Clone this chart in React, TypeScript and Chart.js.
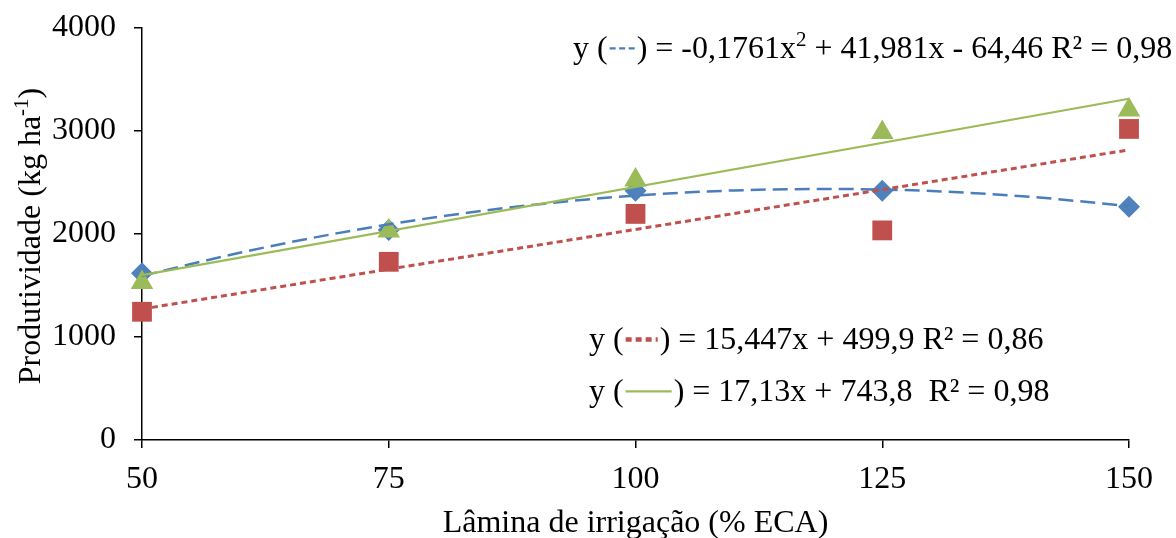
import React, { useEffect, useRef } from "react";
import { Chart, registerables } from "chart.js";
Chart.register(...registerables);

const laminas = [50, 75, 100, 125, 150];
const serieAzul = [1620, 2040, 2420, 2420, 2265];
const serieVermelha = [1245, 1730, 2195, 2035, 3020];
const serieVerde = [1530, 2030, 2525, 2985, 3205];
const curvaAzulX = [50, 60, 70, 80, 90, 100, 110, 120, 130, 140, 150];
const curvaAzulY = [1594, 1820, 2011, 2167, 2287, 2373, 2423, 2437, 2417, 2361, 2270];
const retaX = [50, 150];
const retaVermelhaY = [1272, 2817];
const retaVerdeY = [1600, 3313];
const xTicks = [50, 75, 100, 125, 150];
const yTicks = [0, 1000, 2000, 3000, 4000];

const AZUL = "#4F81BD";
const AZUL_LINHA = "#4A7EBB";
const VERMELHO = "#C0504D";
const VERDE = "#9BBB59";
const FONT = "Liberation Serif";
const F = 32;

const zip = (xs: number[], ys: number[]) => xs.map((x, i) => ({ x, y: ys[i] }));

type Part = { t?: string; sup?: boolean; sample?: "blue" | "red" | "green" };

function drawSample(ctx: CanvasRenderingContext2D, kind: string, x: number, y: number): number {
  ctx.save();
  let w = 0;
  if (kind === "blue") {
    w = 25;
    ctx.strokeStyle = AZUL_LINHA;
    ctx.lineWidth = 2.25;
    ctx.setLineDash([6, 3.5]);
  } else if (kind === "red") {
    w = 32;
    ctx.strokeStyle = VERMELHO;
    ctx.lineWidth = 4.5;
    ctx.setLineDash([6, 4]);
  } else {
    w = 46;
    ctx.strokeStyle = VERDE;
    ctx.lineWidth = 2.25;
    ctx.setLineDash([]);
  }
  ctx.beginPath();
  ctx.moveTo(x + 2, y);
  ctx.lineTo(x + 2 + w, y);
  ctx.stroke();
  ctx.restore();
  return w + 4;
}

function drawSeq(ctx: CanvasRenderingContext2D, x: number, y: number, parts: Part[]) {
  for (const p of parts) {
    if (p.sample) {
      x += drawSample(ctx, p.sample, x, y - F * 0.3);
    } else if (p.t !== undefined) {
      ctx.font = p.sup ? `${Math.round(F * 0.65)}px "${FONT}"` : `${F}px "${FONT}"`;
      ctx.fillText(p.t, x, y - (p.sup ? F * 0.36 : 0));
      x += ctx.measureText(p.t).width;
    }
  }
}

function seqWidth(ctx: CanvasRenderingContext2D, parts: Part[]) {
  let w = 0;
  for (const p of parts) {
    if (p.t !== undefined) {
      ctx.font = p.sup ? `${Math.round(F * 0.65)}px "${FONT}"` : `${F}px "${FONT}"`;
      w += ctx.measureText(p.t).width;
    }
  }
  return w;
}

const annotations = {
  id: "annotations",
  afterDraw(chart: any) {
    const ctx: CanvasRenderingContext2D = chart.ctx;
    const area = chart.chartArea;
    ctx.save();
    ctx.fillStyle = "#000";
    ctx.textBaseline = "alphabetic";
    ctx.textAlign = "left";
    drawSeq(ctx, 573, 58, [
      { t: "y (" },
      { sample: "blue" },
      { t: ") = -0,1761x" },
      { t: "2", sup: true },
      { t: " + 41,981x - 64,46 R\u00B2 = 0,98" },
    ]);
    drawSeq(ctx, 589, 349, [
      { t: "y (" },
      { sample: "red" },
      { t: ") = 15,447x + 499,9 R\u00B2 = 0,86" },
    ]);
    drawSeq(ctx, 589, 401, [
      { t: "y (" },
      { sample: "green" },
      { t: ") = 17,13x + 743,8  R\u00B2 = 0,98" },
    ]);
    const xt: Part[] = [{ t: "L\u00E2mina de irriga\u00E7\u00E3o (% ECA)" }];
    const xw = seqWidth(ctx, xt);
    drawSeq(ctx, (area.left + area.right) / 2 - xw / 2, 532, xt);
    const yt: Part[] = [{ t: "Produtividade (kg ha" }, { t: "-1", sup: true }, { t: ")" }];
    const yw = seqWidth(ctx, yt);
    ctx.translate(40, 236);
    ctx.rotate(-Math.PI / 2);
    drawSeq(ctx, -yw / 2, 0, yt);
    ctx.restore();
  },
};

export default function App() {
  const ref = useRef<HTMLCanvasElement | null>(null);
  useEffect(() => {
    if (!ref.current) return;
    const tickFont = { family: FONT, size: F };
    const chart = new Chart(ref.current, {
      type: "scatter",
      data: {
        datasets: [
          {
            type: "line",
            data: zip(retaX, retaVerdeY),
            borderColor: VERDE,
            borderWidth: 2.25,
            pointRadius: 0,
            clip: false,
          } as any,
          {
            type: "line",
            data: zip(retaX, retaVermelhaY),
            borderColor: VERMELHO,
            borderWidth: 3,
            borderDash: [6, 4],
            pointRadius: 0,
            clip: false,
          } as any,
          {
            type: "line",
            data: zip(curvaAzulX, curvaAzulY),
            borderColor: AZUL_LINHA,
            borderWidth: 2.5,
            borderDash: [15, 7],
            cubicInterpolationMode: "monotone",
            pointRadius: 0,
            clip: false,
          } as any,
          {
            data: zip(laminas, serieVerde),
            pointStyle: "triangle",
            pointRadius: 13,
            backgroundColor: VERDE,
            borderColor: VERDE,
            borderWidth: 0,
            clip: false,
          } as any,
          {
            data: zip(laminas, serieVermelha),
            pointStyle: "rect",
            pointRadius: 14,
            backgroundColor: VERMELHO,
            borderColor: VERMELHO,
            borderWidth: 0,
            clip: false,
          } as any,
          {
            data: zip(laminas, serieAzul),
            pointStyle: "rectRot",
            pointRadius: 11,
            backgroundColor: AZUL,
            borderColor: AZUL,
            borderWidth: 0,
            clip: false,
          } as any,
        ],
      },
      options: {
        animation: false,
        responsive: false,
        events: [],
        layout: { padding: { left: 0, right: 47, top: 28, bottom: 0 } },
        plugins: { legend: { display: false }, tooltip: { enabled: false } },
        scales: {
          x: {
            type: "linear",
            min: 50,
            max: 150,
            afterBuildTicks: (s: any) => {
              s.ticks = xTicks.map((v) => ({ value: v }));
            },
            afterFit: (s: any) => {
              s.height = 98;
              s.paddingLeft = 0;
              s.paddingRight = 0;
              s.paddingTop = 0;
              s.paddingBottom = 0;
            },
            ticks: { font: tickFont, color: "#000", padding: 12, callback: (v: any) => String(v) },
            grid: { drawOnChartArea: false, drawTicks: true, tickLength: 8, color: "#000", lineWidth: 1.5 },
            border: { display: true, color: "#000", width: 1.5 },
          },
          y: {
            type: "linear",
            min: 0,
            max: 4000,
            afterBuildTicks: (s: any) => {
              s.ticks = yTicks.map((v) => ({ value: v }));
            },
            afterFit: (s: any) => {
              s.width = 142;
              s.paddingLeft = 0;
              s.paddingRight = 0;
              s.paddingTop = 0;
              s.paddingBottom = 0;
            },
            ticks: { font: tickFont, color: "#000", padding: 18, callback: (v: any) => String(v) },
            grid: { drawOnChartArea: false, drawTicks: true, tickLength: 8, color: "#000", lineWidth: 1.5 },
            border: { display: true, color: "#000", width: 1.5 },
          },
        },
      },
      plugins: [annotations],
    } as any);
    return () => chart.destroy();
  }, []);
  return (
    <div style={{ position: "absolute", left: 0, top: 0, width: 1176, height: 538, background: "#fff" }}>
      <canvas ref={ref} width={1176} height={538} style={{ width: 1176, height: 538, display: "block" }} />
    </div>
  );
}
